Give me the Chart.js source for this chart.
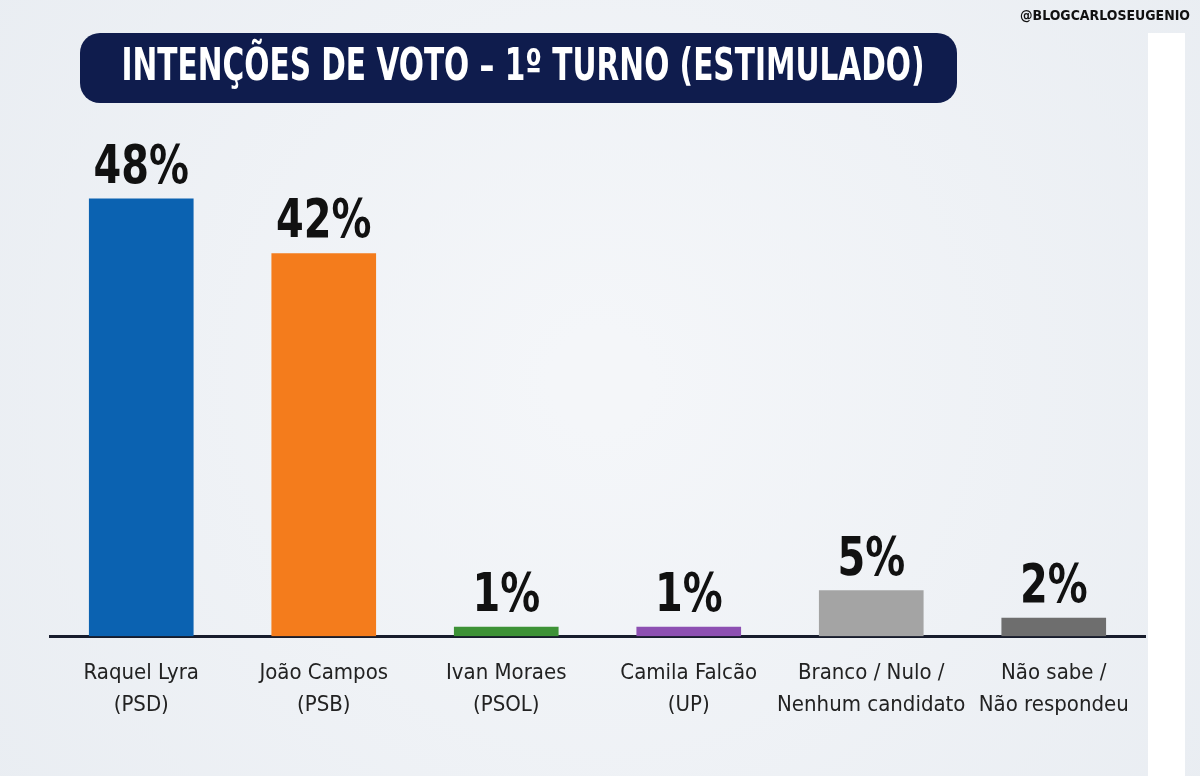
<!DOCTYPE html>
<html>
<head>
<meta charset="utf-8">
<script src="https://cdn.jsdelivr.net/npm/chart.js@4/dist/chart.umd.min.js"></script>
<style>
  body { margin: 0; background: #eef1f5; }
  canvas { display: block; }
</style>
</head>
<body>
<canvas id="voteChart" width="1200" height="776"></canvas>
<script>
// Data
const categories = [
  ["Raquel Lyra", "(PSD)"],
  ["João Campos", "(PSB)"],
  ["Ivan Moraes", "(PSOL)"],
  ["Camila Falcão", "(UP)"],
  ["Branco / Nulo /", "Nenhum candidato"],
  ["Não sabe /", "Não respondeu"]
];
const voteShare = [48, 42, 1, 1, 5, 2];
const barColors = ["#0b62b1", "#f47c1c", "#3d9236", "#8d50b2", "#a4a4a4", "#6e6e6e"];

const titleText = "INTENÇÕES DE VOTO – 1º TURNO (ESTIMULADO)";
const watermark = "@BLOGCARLOSEUGENIO";
const condensed = "'Liberation Sans Narrow', 'DejaVu Sans Condensed', 'Roboto', sans-serif";

// draw text squeezed to a given width
function fitText(ctx, text, x, y, maxW) {
  const w = ctx.measureText(text).width;
  ctx.save();
  ctx.translate(x, y);
  if (w > maxW) ctx.scale(maxW / w, 1);
  ctx.fillText(text, 0, 0);
  ctx.restore();
}

const decorPlugin = {
  id: "decor",
  beforeDraw(chart) {
    const ctx = chart.ctx;
    ctx.save();
    // background
    const g = ctx.createRadialGradient(600, 380, 50, 600, 380, 750);
    g.addColorStop(0, "#f4f6f9");
    g.addColorStop(1, "#e9edf2");
    ctx.fillStyle = g;
    ctx.fillRect(0, 0, chart.width, chart.height);
    // white strip on the right
    ctx.fillStyle = "#ffffff";
    ctx.fillRect(1148, 33, 37, 743);
    // title box
    ctx.fillStyle = "#0f1c4d";
    ctx.beginPath();
    ctx.roundRect(80, 33, 877, 70, 20);
    ctx.fill();
    ctx.fillStyle = "#ffffff";
    ctx.font = "bold 44px " + condensed;
    ctx.textAlign = "center";
    ctx.textBaseline = "middle";
    fitText(ctx, titleText, 523, 69, 803);
    // watermark
    ctx.fillStyle = "#111111";
    ctx.font = "bold 14px " + condensed;
    fitText(ctx, watermark, 1105, 16, 170);
    ctx.restore();
  },
  afterDatasetsDraw(chart) {
    const ctx = chart.ctx;
    const meta = chart.getDatasetMeta(0);
    ctx.save();
    ctx.fillStyle = "#111111";
    ctx.font = "bold 54px " + condensed;
    ctx.textAlign = "center";
    ctx.textBaseline = "alphabetic";
    meta.data.forEach(function (bar, i) {
      const txt = voteShare[i] + "%";
      const w = ctx.measureText(txt).width;
      fitText(ctx, txt, bar.x, bar.y - 16, w * 0.82);
    });
    ctx.restore();
  }
};

new Chart(document.getElementById("voteChart"), {
  type: "bar",
  data: {
    labels: categories,
    datasets: [{
      data: voteShare,
      backgroundColor: barColors,
      borderWidth: 0,
      barThickness: 104
    }]
  },
  options: {
    responsive: false,
    animation: false,
    devicePixelRatio: 1,
    layout: { padding: { left: 50, right: 55, top: 135, bottom: 34 } },
    plugins: {
      legend: { display: false },
      tooltip: { enabled: false }
    },
    scales: {
      x: {
        grid: { display: false, drawTicks: false },
        border: { display: true, color: "#171c2c", width: 3 },
        ticks: {
          color: "#222222",
          padding: 21,
          maxRotation: 0,
          minRotation: 0,
          autoSkip: false,
          font: { family: condensed, size: 22, lineHeight: 1.45 }
        }
      },
      y: {
        display: false,
        min: 0,
        max: 55
      }
    }
  },
  plugins: [decorPlugin]
});
</script>
</body>
</html>
